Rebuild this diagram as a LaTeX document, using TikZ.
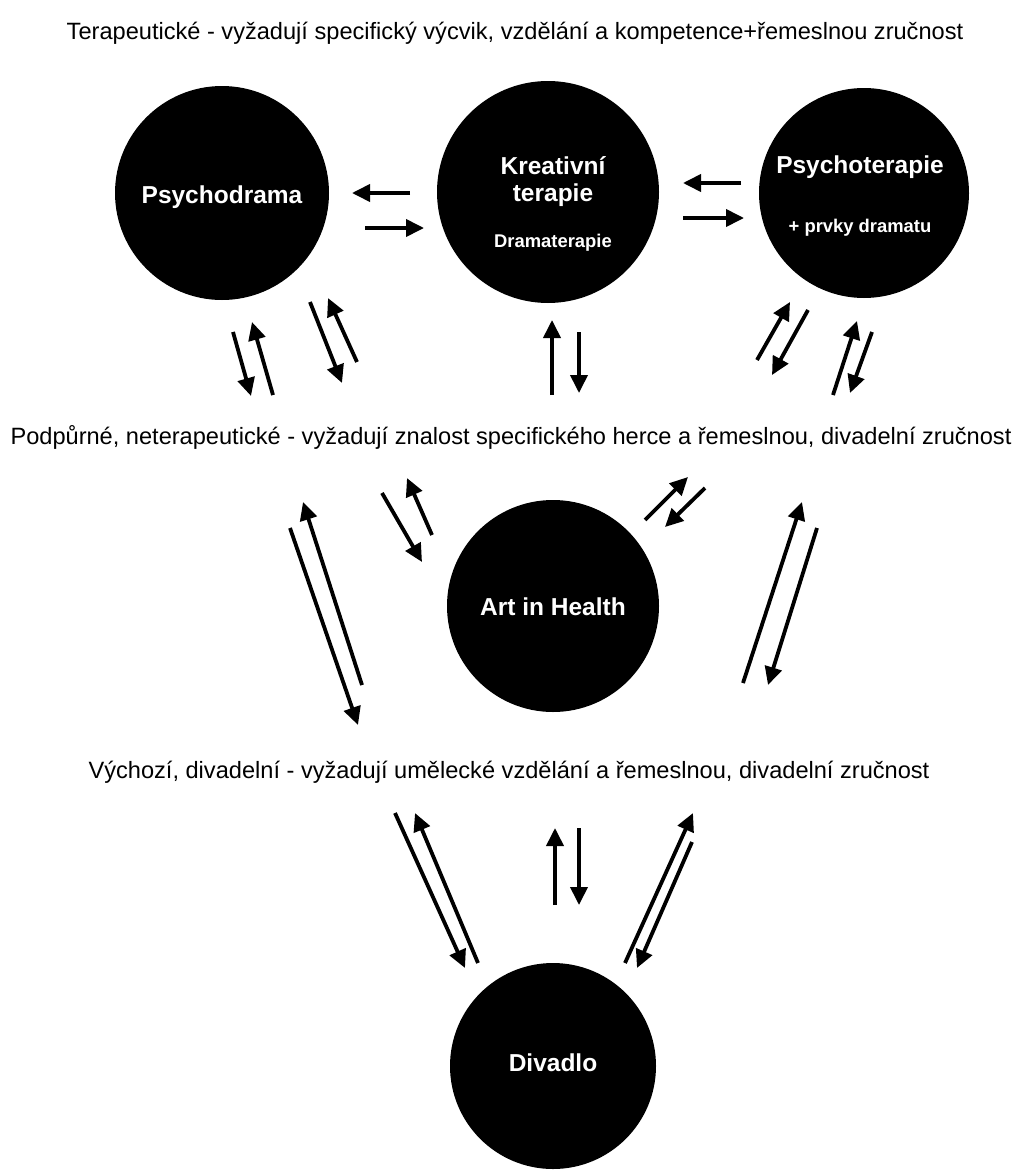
\documentclass[tikz,border=0pt]{standalone}
\usepackage{fontspec}
\setmainfont{Liberation Sans}
\usetikzlibrary{arrows.meta}
\tikzset{
  blob/.style={circle,fill=black,inner sep=0pt},
  lbl/.style={text=white,font=\bfseries\fontsize{24.5}{28}\selectfont,inner sep=0pt},
  sublbl/.style={text=white,font=\bfseries\fontsize{18.4}{22}\selectfont,inner sep=0pt},
  hdr/.style={font=\fontsize{23.6}{27}\selectfont,inner sep=0pt},
  arr/.style={line width=3.8pt,-{Triangle[length=18pt,width=17pt]}}
}
\begin{document}
\begin{tikzpicture}[x=1pt,y=-1pt]
\useasboundingbox (0,0) rectangle (1022,1175);
% circles
\node[blob,minimum size=214pt] (psd) at (222,193) {};
\node[blob,minimum size=222pt] (kre) at (548,192) {};
\node[blob,minimum size=210pt] (pst) at (864,193) {};
\node[blob,minimum size=212pt] (aih) at (553,606) {};
\node[blob,minimum size=206pt] (div) at (553,1066) {};
% labels
\node[lbl] (psdt) at (222,197) {Psychodrama};
\node[lbl] (kret1) at (553,166) {Kreativní};
\node[lbl] (kret2) at (553,195) {terapie};
\node[sublbl] (kret3) at (553,243) {Dramaterapie};
\node[lbl] (pstt1) at (860,167) {Psychoterapie};
\node[sublbl] (pstt2) at (860,228) {+ prvky dramatu};
\node[lbl] (aiht) at (553,607) {Art in Health};
\node[lbl] (divt) at (553,1063) {Divadlo};
% headers
\node[hdr] (h1) at (515,33) {Terapeutické - vyžadují specifický výcvik, vzdělání a kompetence+řemeslnou zručnost};
\node[hdr] (h2) at (511,437) {Podpůrné, neterapeutické - vyžadují znalost specifického herce a řemeslnou, divadelní zručnost};
\node[hdr] (h3) at (509,772) {Výchozí, divadelní - vyžadují umělecké vzdělání a řemeslnou, divadelní zručnost};
% arrow end points
\foreach \n/\x/\y in {
  a1/410/193, a2/352/193, b1/365/228, b2/424/228,
  c1/741/183, c2/683/183, d1/683/218, d2/744/218,
  e1/233/332, e2/251/396, f1/273/395, f2/252/322,
  g1/310/302, g2/342/383, h1/357/362, h2/328/298,
  i1/552/395, i2/552/320, j1/579/332, j2/579/393,
  k1/757/360, k2/790/302, l1/808/310, l2/772/375,
  m1/833/395, m2/857/321, n1/872/332, n2/850/393,
  o1/362/685, o2/303/502, p1/290/528, p2/358/725,
  q1/432/535, q2/407/478, r1/382/493, r2/422/562,
  s1/645/520, s2/688/477, t1/705/488, t2/665/527,
  u1/743/683, u2/802/502, v1/817/528, v2/768/685,
  w1/395/813, w2/465/968, x1/478/963, x2/415/813,
  y1/555/905, y2/555/828, z1/579/828, z2/579/905,
  za1/625/963, za2/693/813, zb1/692/842, zb2/637/968}
  {\coordinate (\n) at (\x,\y);}
\foreach \s in {a,b,c,d,e,f,g,h,i,j,k,l,m,n,o,p,q,r,s,t,u,v,w,x,y,z,za,zb}
  {\draw[arr] (\s1) -- (\s2);}
\end{tikzpicture}
\end{document}
